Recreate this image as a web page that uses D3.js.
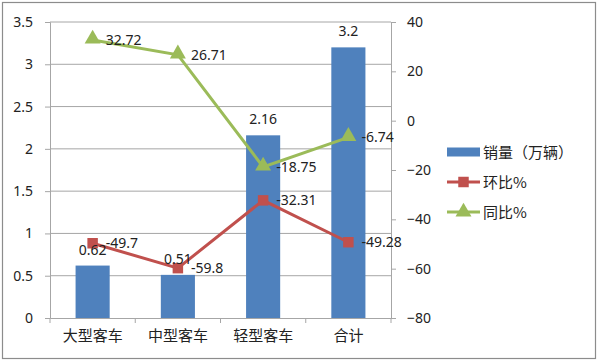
<!DOCTYPE html>
<html>
<head>
<meta charset="utf-8">
<script src="https://cdn.jsdelivr.net/npm/d3@7"></script>
<style>
  body { margin: 0; background: #fff; }
  text { font-family: "Noto Sans", "Noto Sans CJK SC", sans-serif; fill: #222; }
  .cjk { font-family: "Noto Sans CJK SC", sans-serif; }
</style>
</head>
<body>
<div id="chart"></div>
<script>
// data
const categories = ["大型客车", "中型客车", "轻型客车", "合计"];
const sales = [0.62, 0.51, 2.16, 3.2];          // 销量（万辆）, left axis
const momPct = [-49.7, -59.8, -32.31, -49.28];  // 环比%, right axis
const yoyPct = [32.72, 26.71, -18.75, -6.74];   // 同比%, right axis
const leftTicks = [0, 0.5, 1, 1.5, 2, 2.5, 3, 3.5];
const rightTicks = [-80, -60, -40, -20, 0, 20, 40];
const seriesNames = ["销量（万辆）", "环比%", "同比%"];

const W = 600, H = 363;
const margin = {top: 22, right: 209, bottom: 45, left: 50};
const width = W - margin.left - margin.right;
const height = H - margin.top - margin.bottom;

const blue = "#4f81bd", red = "#c0504d", green = "#9bbb59";

const svg = d3.select("#chart").append("svg")
    .attr("width", W)
    .attr("height", H);

// outer frame
svg.append("rect")
    .attr("x", 2.5).attr("y", 2.5)
    .attr("width", 593).attr("height", 356)
    .attr("fill", "#fff")
    .attr("stroke", "#8c8c8c")
    .attr("stroke-width", 1.2);

const g = svg.append("g")
    .attr("transform", "translate(" + margin.left + "," + margin.top + ")");

const x = d3.scaleBand().domain(categories).range([0, width]);
const yL = d3.scaleLinear().domain([0, 3.5]).range([height, 0]);
const yR = d3.scaleLinear().domain([-80, 40]).range([height, 0]);

// gridlines
g.append("g")
    .selectAll("line")
    .data(leftTicks.slice(1))
    .enter().append("line")
    .attr("x1", 0).attr("x2", width)
    .attr("y1", d => yL(d)).attr("y2", d => yL(d))
    .attr("stroke", "#a6a6a6")
    .attr("stroke-width", 1);

// left axis
const axL = g.append("g")
    .call(d3.axisLeft(yL).tickValues(leftTicks).tickSize(5).tickPadding(12).tickFormat(d3.format("")));
axL.select(".domain").attr("stroke", "#a6a6a6");
axL.selectAll(".tick line").attr("stroke", "#a6a6a6");
axL.selectAll("text").style("font-size", "14px");

// right axis
const axR = g.append("g")
    .attr("transform", "translate(" + width + ",0)")
    .call(d3.axisRight(yR).tickValues(rightTicks).tickSize(5).tickPadding(11).tickFormat(d3.format("")));
axR.select(".domain").attr("stroke", "#a6a6a6");
axR.selectAll(".tick line").attr("stroke", "#a6a6a6");
axR.selectAll("text").style("font-size", "14px");

// bars
const barW = x.bandwidth() / 2.5;
g.selectAll(".bar")
    .data(sales)
    .enter().append("rect")
    .attr("class", "bar")
    .attr("x", (d, i) => x(categories[i]) + x.bandwidth() / 2 - barW / 2)
    .attr("y", d => yL(d))
    .attr("width", barW)
    .attr("height", d => height - yL(d))
    .attr("fill", blue);

// x axis
const axX = g.append("g")
    .attr("transform", "translate(0," + height + ")")
    .call(d3.axisBottom(x).tickSize(0).tickPadding(12));
axX.select(".domain").attr("stroke", "#a6a6a6");
axX.selectAll("text").attr("class", "cjk").style("font-size", "15px");
g.append("g")
    .selectAll("line")
    .data(d3.range(categories.length + 1))
    .enter().append("line")
    .attr("x1", d => d * x.step()).attr("x2", d => d * x.step())
    .attr("y1", height).attr("y2", height + 5)
    .attr("stroke", "#a6a6a6");

const cx = i => x(categories[i]) + x.bandwidth() / 2;

// lines
const line = d3.line().x((d, i) => cx(i)).y(d => yR(d));
g.append("path").datum(momPct)
    .attr("d", line).attr("fill", "none")
    .attr("stroke", red).attr("stroke-width", 3);
g.append("path").datum(yoyPct)
    .attr("d", line).attr("fill", "none")
    .attr("stroke", green).attr("stroke-width", 3);

// markers
const sq = d3.symbol().type(d3.symbolSquare).size(110);
const tri = d3.symbol().type(d3.symbolTriangle).size(110);
g.selectAll(".mom").data(momPct).enter().append("path")
    .attr("transform", (d, i) => "translate(" + cx(i) + "," + yR(d) + ")")
    .attr("d", sq).attr("fill", red);
g.selectAll(".yoy").data(yoyPct).enter().append("path")
    .attr("transform", (d, i) => "translate(" + cx(i) + "," + (yR(d) - 1) + ")")
    .attr("d", tri).attr("fill", green);

// data labels
g.selectAll(".lblBar").data(sales).enter().append("text")
    .attr("x", (d, i) => cx(i))
    .attr("y", d => yL(d) - 11)
    .attr("text-anchor", "middle")
    .style("font-size", "14px")
    .text(d => d);
g.selectAll(".lblMom").data(momPct).enter().append("text")
    .attr("x", (d, i) => cx(i) + 13)
    .attr("y", d => yR(d) + 5)
    .style("font-size", "14px")
    .text(d => d);
g.selectAll(".lblYoy").data(yoyPct).enter().append("text")
    .attr("x", (d, i) => cx(i) + 13)
    .attr("y", d => yR(d) + 5)
    .style("font-size", "14px")
    .text(d => d);

// legend
const lg = svg.append("g").attr("transform", "translate(447,152)");
const colors = [blue, red, green];
seriesNames.forEach((name, i) => {
    const row = lg.append("g").attr("transform", "translate(0," + (i * 30) + ")");
    if (i === 0) {
        row.append("rect").attr("x", 0).attr("y", -4.5).attr("width", 33).attr("height", 9).attr("fill", blue);
    } else {
        row.append("line").attr("x1", 0).attr("x2", 33).attr("y1", 0).attr("y2", 0)
            .attr("stroke", colors[i]).attr("stroke-width", 3);
        row.append("path").attr("transform", "translate(16.5,0)")
            .attr("d", i === 1 ? sq : tri).attr("fill", colors[i]);
    }
    row.append("text").attr("class", "cjk")
        .attr("x", 36).attr("y", 6)
        .style("font-size", "15px")
        .text(name);
});
</script>
</body>
</html>
